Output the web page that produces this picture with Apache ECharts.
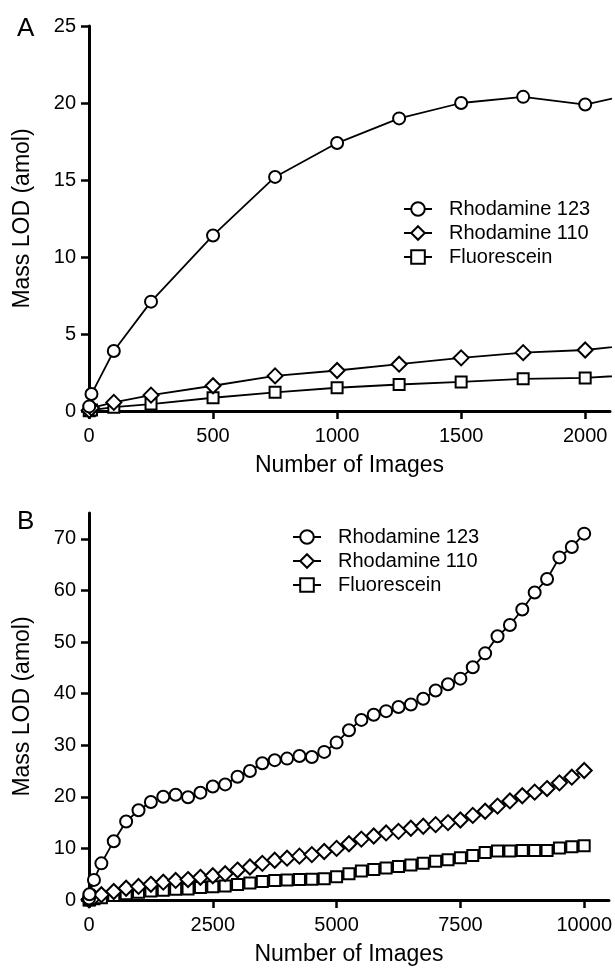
<!DOCTYPE html>
<html><head><meta charset="utf-8">
<script src="https://cdn.jsdelivr.net/npm/echarts@6/dist/echarts.min.js"></script>
<style>html,body{margin:0;padding:0;background:#fff}#c{width:615px;height:977px}</style>
</head><body><div id="c"></div>
<script>
// Number of images (x values)
const images = [1, 10, 100, 250, 500, 750, 1000, 1250, 1500, 1750, 2000, 2250, 2500, 2750, 3000, 3250, 3500, 3750, 4000, 4250, 4500, 4750, 5000, 5250, 5500, 5750, 6000, 6250, 6500, 6750, 7000, 7250, 7500, 7750, 8000, 8250, 8500, 8750, 9000, 9250, 9500, 9750, 10000];
// Mass LOD (amol)
const rhodamine123 = [0.3, 1.1, 3.9, 7.1, 11.4, 15.2, 17.4, 19.0, 20.0, 20.4, 19.9, 20.8, 22.0, 22.4, 23.9, 25.0, 26.5, 27.1, 27.4, 27.9, 27.7, 28.7, 30.5, 32.9, 34.9, 35.9, 36.6, 37.4, 37.9, 39.0, 40.6, 41.8, 42.9, 45.1, 47.8, 51.1, 53.3, 56.3, 59.6, 62.2, 66.4, 68.4, 71.0];
const rhodamine110 = [0.05, 0.2, 0.56, 1.03, 1.64, 2.28, 2.63, 3.04, 3.45, 3.79, 3.96, 4.4, 4.7, 5.1, 5.8, 6.4, 7.1, 7.7, 8.1, 8.5, 8.8, 9.4, 10.0, 10.9, 11.8, 12.4, 13.0, 13.3, 13.9, 14.3, 14.6, 15.0, 15.5, 16.4, 17.2, 18.2, 19.2, 20.2, 20.9, 21.6, 22.7, 23.8, 25.1];
const fluorescein = [0.02, 0.06, 0.25, 0.45, 0.86, 1.21, 1.51, 1.72, 1.89, 2.09, 2.15, 2.4, 2.55, 2.7, 3.0, 3.3, 3.6, 3.8, 3.9, 3.95, 4.0, 4.1, 4.5, 5.1, 5.6, 5.9, 6.2, 6.5, 6.8, 7.1, 7.5, 7.8, 8.2, 8.6, 9.2, 9.5, 9.5, 9.6, 9.6, 9.6, 10.1, 10.3, 10.5];
const seriesNames = ['Rhodamine 123', 'Rhodamine 110', 'Fluorescein'];
// tick labels
const xTicksA = [0, 500, 1000, 1500, 2000];
const yTicksA = [0, 5, 10, 15, 20, 25];
const xTicksB = [0, 2500, 5000, 7500, 10000];
const yTicksB = [0, 10, 20, 30, 40, 50, 60, 70];

const FONT = '"Liberation Sans", Arial, Helvetica, sans-serif';
const pairs = ys => images.map((x, i) => [x, ys[i]]);
const seriesData = [rhodamine123, rhodamine110, fluorescein];
const symbolDefs = [
  {symbol: 'circle', size: 12},
  {symbol: 'diamond', size: 15},
  {symbol: 'rect', size: 11}
];

function makeSeries(idx) {
  return seriesNames.map((name, k) => ({
    name: name,
    type: 'line',
    xAxisIndex: idx,
    yAxisIndex: idx,
    data: pairs(seriesData[k]),
    symbol: symbolDefs[k].symbol,
    symbolSize: symbolDefs[k].size,
    showSymbol: true,
    showAllSymbol: true,
    clip: true,
    z: 3 - k,
    lineStyle: {color: '#000', width: 1.8},
    itemStyle: {color: '#fff', borderColor: '#000', borderWidth: 2},
    emphasis: {disabled: true}
  }));
}

const plain = v => String(v);
function makeX(idx, max, ticks, interval) {
  return {
    gridIndex: idx, type: 'value', min: 0, max: max, interval: interval,
    name: 'Number of Images', nameLocation: 'middle', nameGap: 43,
    nameTextStyle: {fontSize: 23, color: '#000', fontFamily: FONT},
    axisLine: {show: true, onZero: false, lineStyle: {color: '#000', width: 3}},
    axisTick: {show: true, length: 8, lineStyle: {color: '#000', width: 2.5}, customValues: ticks},
    axisLabel: {fontSize: 20, color: '#000', fontFamily: FONT, margin: 15, formatter: plain, customValues: ticks},
    splitLine: {show: false}
  };
}
function makeY(idx, max, ticks, interval) {
  return {
    gridIndex: idx, type: 'value', min: 0, max: max, interval: interval,
    name: 'Mass LOD (amol)', nameLocation: 'middle', nameGap: 55,
    nameTextStyle: {fontSize: 23, color: '#000', fontFamily: FONT},
    axisLine: {show: true, onZero: false, lineStyle: {color: '#000', width: 3}},
    axisTick: {show: true, length: 8, lineStyle: {color: '#000', width: 2.5}, customValues: ticks},
    axisLabel: {fontSize: 20, color: '#000', fontFamily: FONT, margin: 13, formatter: plain, customValues: ticks},
    splitLine: {show: false}
  };
}
function makeLegend(left, top) {
  return {
    orient: 'vertical', left: left, top: top,
    data: seriesNames,
    itemWidth: 28, itemHeight: 17, itemGap: 4,
    selectedMode: false,
    textStyle: {fontSize: 20, color: '#000', fontFamily: FONT, lineHeight: 20, padding: [0, 0, 0, 12]}
  };
}

const chart = echarts.init(document.getElementById('c'), null, {renderer: 'canvas'});
chart.setOption({
  animation: false,
  backgroundColor: '#fff',
  title: [
    {text: 'A', left: 12, top: 11, textStyle: {fontSize: 26, fontWeight: 'normal', color: '#000', fontFamily: FONT}},
    {text: 'B', left: 12, top: 504, textStyle: {fontSize: 26, fontWeight: 'normal', color: '#000', fontFamily: FONT}}
  ],
  grid: [
    {left: 89, top: 26, width: 521, height: 385},
    {left: 89, top: 513, width: 521, height: 387}
  ],
  legend: [makeLegend(398, 194), makeLegend(287, 522)],
  xAxis: [makeX(0, 2100, xTicksA, 500), makeX(1, 10500, xTicksB, 2500)],
  yAxis: [makeY(0, 25, yTicksA, 5), makeY(1, 75, yTicksB, 10)],
  series: makeSeries(0).concat(makeSeries(1))
});
</script></body></html>
